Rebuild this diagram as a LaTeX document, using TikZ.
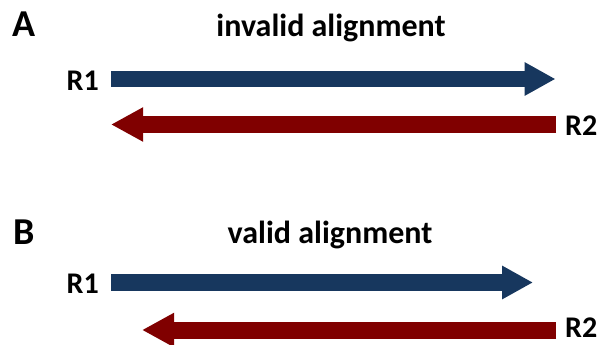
\documentclass[tikz,border=0pt]{standalone}
\usepackage{fontspec}
\setmainfont{Carlito}
\usetikzlibrary{arrows.meta}
\definecolor{readblue}{RGB}{23,55,94}
\definecolor{readred}{RGB}{128,0,0}
\begin{document}
\begin{tikzpicture}[x=1pt,y=-1pt,
  title/.style={inner sep=0pt,font=\fontsize{32}{34}\selectfont\bfseries},
  lbl/.style={inner sep=0pt,text depth=0pt,font=\fontsize{30}{32}\selectfont\bfseries},
  panel/.style={inner sep=0pt,font=\fontsize{38}{40}\selectfont\bfseries},
  fwdread/.style={draw=readblue,line width=16.5pt,
    -{Triangle[length=31pt,width=31.5pt]}},
  revread/.style={draw=readred,line width=17pt,
    -{Triangle[length=32pt,width=32pt]}}]
\useasboundingbox (0,0) rectangle (602,345);

% Panel A: reads overlapping past each other
\node[panel,anchor=base west] (pA) at (12,37) {A};
\node[title,anchor=base] (tA) at (331,37) {invalid alignment};
\node[lbl,anchor=base east] (r1A) at (99,90) {R1};
\node[lbl,anchor=base west] (r2A) at (565,135) {R2};
\coordinate (r1As) at (111,79);
\coordinate (r1Ae) at (555.5,79);
\coordinate (r2As) at (556,124.5);
\coordinate (r2Ae) at (111,124.5);
\draw[fwdread] (r1As) -- (r1Ae);
\draw[revread] (r2As) -- (r2Ae);

% Panel B: reads facing inward
\node[panel,anchor=base west] (pB) at (13,244) {B};
\node[title,anchor=base] (tB) at (330,243) {valid alignment};
\node[lbl,anchor=base east] (r1B) at (99,293) {R1};
\node[lbl,anchor=base west] (r2B) at (565,337) {R2};
\coordinate (r1Bs) at (111,282.5);
\coordinate (r1Be) at (533,282.5);
\coordinate (r2Bs) at (556,330);
\coordinate (r2Be) at (142,330);
\draw[fwdread] (r1Bs) -- (r1Be);
\draw[revread] (r2Bs) -- (r2Be);
\end{tikzpicture}
\end{document}
